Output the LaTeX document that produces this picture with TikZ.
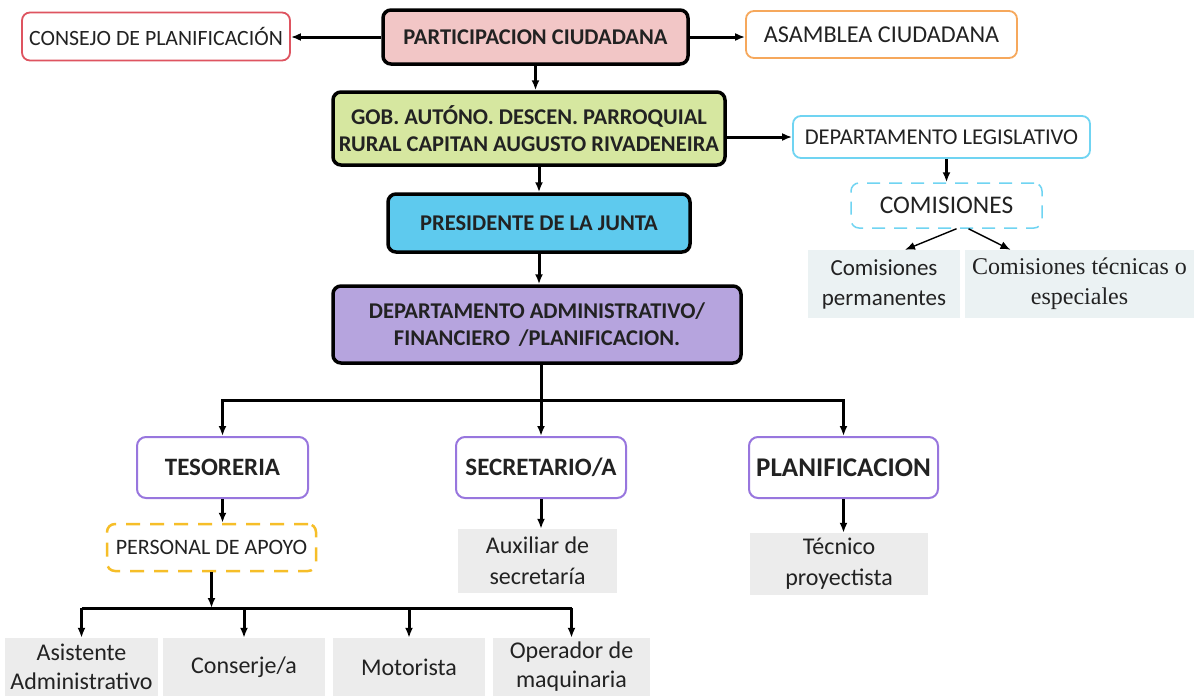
\documentclass[tikz,border=0pt]{standalone}
\usepackage{fontspec}
\setmainfont{Carlito}
\newfontfamily\serifa{Liberation Serif}
\usetikzlibrary{arrows.meta}

\definecolor{rosa}{RGB}{242,198,198}
\definecolor{verde}{RGB}{214,231,160}
\definecolor{celeste}{RGB}{94,202,238}
\definecolor{lila}{RGB}{182,164,222}
\definecolor{rojo}{RGB}{222,84,96}
\definecolor{naranja}{RGB}{246,168,92}
\definecolor{cian}{RGB}{112,212,242}
\definecolor{morado}{RGB}{152,118,222}
\definecolor{amarillo}{RGB}{246,190,40}
\definecolor{celda}{RGB}{236,236,236}
\definecolor{celdazul}{RGB}{235,242,243}
\definecolor{tinta}{RGB}{34,34,34}

\tikzset{
  topbox/.style={draw=black, line width=3.5pt, rounded corners=8pt, align=center,
    inner sep=0pt, text=tinta, font=\bfseries\fontsize{22.5}{27}\selectfont},
  thinbox/.style={draw, line width=1.8pt, rounded corners=8pt, align=center,
    inner sep=0pt, text=tinta, font=\fontsize{22}{26}\selectfont},
  lvlbox/.style={draw=morado, line width=2pt, rounded corners=9pt, align=center,
    inner sep=0pt, text=tinta, minimum height=61pt, font=\bfseries\fontsize{25}{28}\selectfont},
  cell/.style={fill=celda, align=center, inner sep=0pt, text=tinta,
    font=\fontsize{24}{31}\selectfont},
  link/.style={->, line width=3pt},
  thinlink/.style={->, line width=2.2pt}
}

\begin{document}
\begin{tikzpicture}[x=1pt, y=-1pt, >={Latex[length=10pt,width=8pt]}]
  \useasboundingbox[fill=white] (0,0) rectangle (1194,696);

  % top row
  \node[topbox, fill=rosa, minimum width=305pt, minimum height=54pt] (part) at (535.5,37) {PARTICIPACION CIUDADANA};
  \node[thinbox, draw=rojo, minimum width=268pt, minimum height=48pt, font=\fontsize{21.8}{26}\selectfont] (consejo) at (156,36.5) {CONSEJO DE PLANIFICACIÓN};
  \node[thinbox, draw=naranja, minimum width=271pt, minimum height=47pt, font=\fontsize{24.2}{27}\selectfont] (asam) at (881.5,34.5) {ASAMBLEA CIUDADANA};

  \draw[link] (part.west) -- (part.west -| consejo.east);
  \draw[link] (part.east) -- (part.east -| asam.west);

  % gobierno parroquial
  \node[topbox, fill=verde, minimum width=392pt, minimum height=73pt] (gob) at (529,128.5)
    {GOB. AUTÓNO. DESCEN. PARROQUIAL\\RURAL CAPITAN AUGUSTO RIVADENEIRA};
  \node[thinbox, draw=cian, minimum width=297pt, minimum height=42pt, font=\fontsize{22.6}{26}\selectfont] (leg) at (941.5,137) {DEPARTAMENTO LEGISLATIVO};
  \node[thinbox, draw=cian, dash pattern=on 13pt off 9pt, line width=1.5pt, minimum width=191pt,
    minimum height=45pt, font=\fontsize{25.4}{30}\selectfont] (com) at (946.5,205.5) {COMISIONES};
  \node[cell, fill=celdazul, minimum width=152pt, minimum height=68pt, font=\fontsize{23}{30}\selectfont] (perm) at (884,284) {Comisiones\\permanentes};
  \node[cell, fill=celdazul, minimum width=229pt, minimum height=68pt, font=\serifa\fontsize{24}{30}\selectfont] (tec) at (1079.5,284)
    {Comisiones técnicas o\\especiales};

  \draw[link] (part.south) -- (part.south |- gob.north);
  \draw[link] (gob.east |- leg.west) -- (leg.west);
  \draw[thinlink] (com.north |- leg.south) -- (com.north);
  \draw[->, line width=1.4pt] ([xshift=10pt]com.south) -- ([xshift=21pt]perm.north);
  \draw[->, line width=1.4pt] ([xshift=22pt]com.south) -- ([xshift=-69pt]tec.north);

  % presidente y departamento
  \node[topbox, fill=celeste, minimum width=302pt, minimum height=58pt] (pres) at (539,223) {PRESIDENTE DE LA JUNTA};
  \node[topbox, fill=lila, minimum width=408pt, minimum height=77pt] (dept) at (537,324.5)
    {DEPARTAMENTO ADMINISTRATIVO/\\FINANCIERO \,/PLANIFICACION.};

  \draw[link] (gob.south -| pres.north) -- (pres.north);
  \draw[link] (pres.south) -- (pres.south |- dept.north);

  % tercer nivel
  \node[lvlbox, minimum width=171pt] (teso) at (222.5,467.5) {TESORERIA};
  \node[lvlbox, minimum width=170pt] (secre) at (541,467.5) {SECRETARIO/A};
  \node[lvlbox, minimum width=189pt, font=\bfseries\fontsize{27}{28}\selectfont] (plan) at (843.5,467.5) {PLANIFICACION};

  \coordinate (bus) at (541,400);
  \draw[link] (dept.south -| bus) -- (secre.north);
  \draw[link] (bus) -| (teso.north);
  \draw[link] (bus) -| (plan.north);

  % debajo de cada area
  \node[thinbox, draw=amarillo, dash pattern=on 14pt off 10pt, line width=2.5pt, minimum width=209pt,
    minimum height=47pt] (apoyo) at (211.5,547.5) {PERSONAL DE APOYO};
  \node[cell, minimum width=159pt, minimum height=64pt] (aux) at (537.5,561) {Auxiliar de\\secretaría};
  \node[cell, minimum width=178pt, minimum height=62pt] (tecn) at (839,564) {Técnico\\proyectista};

  \draw[link] (teso.south) -- (teso.south |- apoyo.north);
  \draw[link] (secre.south) -- (secre.south |- aux.north);
  \draw[link] (plan.south) -- (plan.south |- tecn.north);

  % personal de apoyo
  \tikzset{bottom/.style={cell, minimum height=58pt, font=\fontsize{24}{29}\selectfont}}
  \node[bottom, minimum width=153pt] (asis) at (81.5,667) {Asistente\\Administrativo};
  \node[bottom, minimum width=162pt] (cons) at (244,667) {Conserje/a};
  \node[bottom, minimum width=152pt] (moto) at (409,667) {Motorista};
  \node[bottom, minimum width=157pt] (oper) at (571.5,667) {Operador de\\maquinaria};

  \coordinate (bus2) at (211.5,608);
  \draw[link] (apoyo.south) -- (bus2);
  \draw[line width=3pt] (asis.north |- bus2) -- (oper.north |- bus2);
  \foreach \n in {asis,cons,moto,oper} {
    \draw[link] (\n.north |- bus2) -- (\n.north);
  }

\end{tikzpicture}
\end{document}
